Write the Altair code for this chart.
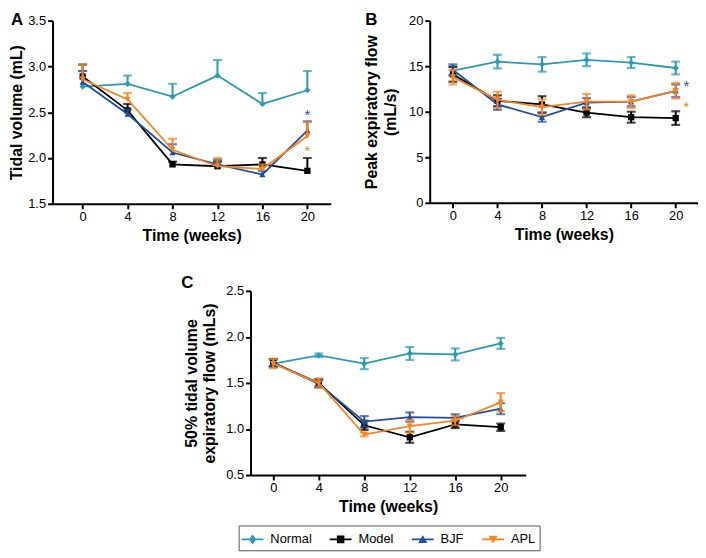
import altair as alt
import pandas as pd

FONT = "Liberation Sans"

WEEKS = [0, 4, 8, 12, 16, 20]
GROUPS = ["Normal", "Model", "BJF", "APL"]
COLORS = ["#2a9bb5", "#000000", "#1f4e9e", "#f7841f"]
SHAPES = ["diamond", "square", "triangle-up", "triangle-down"]

# Panel A: tidal volume (mL)
TV_MEAN = {
    "Normal": [2.78, 2.81, 2.67, 2.90, 2.59, 2.74],
    "Model": [2.89, 2.52, 1.93, 1.91, 1.93, 1.86],
    "BJF": [2.83, 2.48, 2.06, 1.93, 1.82, 2.30],
    "APL": [2.86, 2.64, 2.09, 1.91, 1.88, 2.24],
}
TV_ERR = {
    "Normal": [0.17, 0.09, 0.14, 0.17, 0.12, 0.21],
    "Model": [0.13, 0.07, 0.03, 0.05, 0.07, 0.14],
    "BJF": [0.12, 0.05, 0.09, 0.05, 0.04, 0.10],
    "APL": [0.16, 0.07, 0.12, 0.09, 0.05, 0.15],
}
TV_STARS = [("BJF", 20, 2.51), ("APL", 20, 2.12)]

# Panel B: peak expiratory flow (mL/s)
PEF_MEAN = {
    "Normal": [14.5, 15.5, 15.2, 15.7, 15.4, 14.8],
    "Model": [14.1, 11.2, 10.8, 9.9, 9.4, 9.3],
    "BJF": [14.6, 10.8, 9.4, 11.0, 11.1, 12.3],
    "APL": [13.8, 11.3, 10.5, 11.1, 11.1, 12.3],
}
PEF_ERR = {
    "Normal": [0.5, 0.75, 0.8, 0.7, 0.6, 0.7],
    "Model": [0.8, 0.6, 0.9, 0.5, 0.6, 0.75],
    "BJF": [0.6, 0.6, 0.5, 0.5, 0.5, 0.7],
    "APL": [0.8, 0.9, 0.85, 0.85, 0.7, 0.85],
}
PEF_STARS = [("BJF", 20.95, 13.3), ("APL", 20.95, 11.0)]

# Panel C: 50% tidal volume expiratory flow
EF50_MEAN = {
    "Normal": [1.71, 1.80, 1.71, 1.82, 1.81, 1.93],
    "Model": [1.72, 1.50, 1.04, 0.91, 1.05, 1.02],
    "BJF": [1.72, 1.49, 1.08, 1.13, 1.12, 1.22],
    "APL": [1.71, 1.50, 0.94, 1.03, 1.09, 1.29],
}
EF50_ERR = {
    "Normal": [0.04, 0.02, 0.06, 0.07, 0.065, 0.06],
    "Model": [0.04, 0.04, 0.05, 0.06, 0.04, 0.04],
    "BJF": [0.04, 0.04, 0.06, 0.05, 0.04, 0.06],
    "APL": [0.05, 0.05, 0.02, 0.07, 0.05, 0.10],
}

# legend symbol paths (line through marker)
LINE_P = "M-1.1,-0.1H1.1V0.1H-1.1Z "
LEGEND_PATHS = [
    LINE_P + "M0,-0.5L0.38,0L0,0.5L-0.38,0Z",
    LINE_P + "M-0.38,-0.38H0.38V0.38H-0.38Z",
    LINE_P + "M0,-0.42L0.46,0.36H-0.46Z",
    LINE_P + "M0,0.42L-0.46,-0.36H0.46Z",
]


def make_df(means, errs, one_sided):
    rows = []
    for g in GROUPS:
        for w, m, e in zip(WEEKS, means[g], errs[g]):
            rows.append(dict(group=g, week=w, mean=m,
                             lo=m if one_sided else m - e, hi=m + e))
    return pd.DataFrame(rows)


def panel(df, xdom, ydom, yticks, ytitle, ytitle_pad, width, height,
          letter, letter_xy, stars, one_sided, extra=()):
    def xenc():
        return alt.X("week:Q", scale=alt.Scale(domain=xdom, nice=False, zero=False),
                     axis=alt.Axis(values=WEEKS, format="d", title="Time (weeks)",
                                   titlePadding=4))

    def yenc(field):
        return alt.Y(f"{field}:Q", scale=alt.Scale(domain=ydom, nice=False, zero=False),
                     axis=alt.Axis(values=yticks, format=".1f" if ydom[1] < 10 else "d",
                                   title=ytitle, titlePadding=ytitle_pad,
                                   titleLineHeight=19))

    layers = []
    for g, c, s in zip(GROUPS, COLORS, SHAPES):
        b = alt.Chart(df).transform_filter(alt.datum.group == g)
        layers.append(b.mark_rule(color=c, strokeWidth=2).encode(
            x=xenc(), y=yenc("lo"), y2=alt.Y2("hi:Q")))
        layers.append(b.mark_tick(color=c, orient="horizontal", size=9, thickness=2.2).encode(
            x=xenc(), y=yenc("hi")))
        if not one_sided:
            layers.append(b.mark_tick(color=c, orient="horizontal", size=9, thickness=2.2).encode(
                x=xenc(), y=yenc("lo")))
        layers.append(b.mark_line(color=c, strokeWidth=1.8).encode(
            x=xenc(), y=yenc("mean")))
        layers.append(b.mark_point(color=c, filled=True, shape=s, size=40, opacity=1).encode(
            x=xenc(), y=yenc("mean")))
    for g, sx, sy in stars:
        c = COLORS[GROUPS.index(g)]
        sdf = pd.DataFrame({"week": [sx], "mean": [sy]})
        layers.append(alt.Chart(sdf).mark_text(text="*", color=c, fontSize=15, font=FONT,
                                               baseline="middle", dy=4).encode(
            x=xenc(), y=yenc("mean")))
    ldf = pd.DataFrame({"t": [letter]})
    layers.append(alt.Chart(ldf).mark_text(font=FONT, fontSize=17, fontWeight="bold",
                                           align="left", baseline="top", color="black").encode(
        x=alt.value(letter_xy[0]), y=alt.value(letter_xy[1]), text="t:N"))
    layers.extend(extra)
    return alt.layer(*layers).properties(width=width, height=height)


dfA = make_df(TV_MEAN, TV_ERR, True)
dfB = make_df(PEF_MEAN, PEF_ERR, False)
dfC = make_df(EF50_MEAN, EF50_ERR, False)

legend_df = pd.DataFrame({"Group": GROUPS, "week": [10] * 4, "mean": [1.5] * 4})
legend_layer = alt.Chart(legend_df).transform_filter(
    alt.datum.week < -100
).mark_point(filled=True, opacity=1).encode(
    x=alt.X("week:Q"),
    y=alt.Y("mean:Q"),
    color=alt.Color("Group:N", scale=alt.Scale(domain=GROUPS, range=COLORS),
                    legend=alt.Legend(title=None, orient="none", direction="horizontal",
                                      columns=4, legendX=188, legendY=510,
                                      symbolSize=400, symbolStrokeWidth=0, symbolOpacity=1,
                                      labelFont=FONT, labelFontSize=13, labelColor="black",
                                      labelOffset=8, columnPadding=18, padding=4,
                                      strokeColor="#555555", fillColor="white")),
    shape=alt.Shape("Group:N", scale=alt.Scale(domain=GROUPS, range=LEGEND_PATHS)),
)

A = panel(dfA, [-2.68, 22.08], [1.5, 3.5], [1.5, 2.0, 2.5, 3.0, 3.5],
          "Tidal volume (mL)", 3, 281, 185, "A", (-42, -9), TV_STARS, True)
B = panel(dfB, [-2.08, 22.0], [0, 20], [0, 5, 10, 15, 20],
          ["Peak expiratory flow", "(mL/s)"], 10, 271, 184, "B", (-65, -9), PEF_STARS, False)
C = panel(dfC, [-2.0, 22.2], [0.5, 2.5], [0.5, 1.0, 1.5, 2.0, 2.5],
          ["50% tidal volume", "expiratory flow (mLs)"], 8, 278, 186, "C", (-70, -16), [], False,
          extra=(legend_layer,))

spacer = alt.Chart(pd.DataFrame({"v": [0]})).mark_point(opacity=0).properties(width=130, height=10)

top = alt.hconcat(A, B, spacing=33)
bottom = alt.hconcat(spacer, C, spacing=0)
chart = alt.vconcat(top, bottom, spacing=31).properties(padding=0)

chart = chart.configure_axis(
    domainColor="black", domainWidth=2, tickColor="black", tickWidth=2, tickSize=5,
    labelFont=FONT, labelFontSize=13, labelColor="black", labelPadding=2,
    titleFont=FONT, titleFontSize=16, titleFontWeight="bold", titleColor="black",
    grid=False,
).configure_view(stroke=None)

chart.save("out.html", embed_options={"renderer": "svg", "actions": False})
